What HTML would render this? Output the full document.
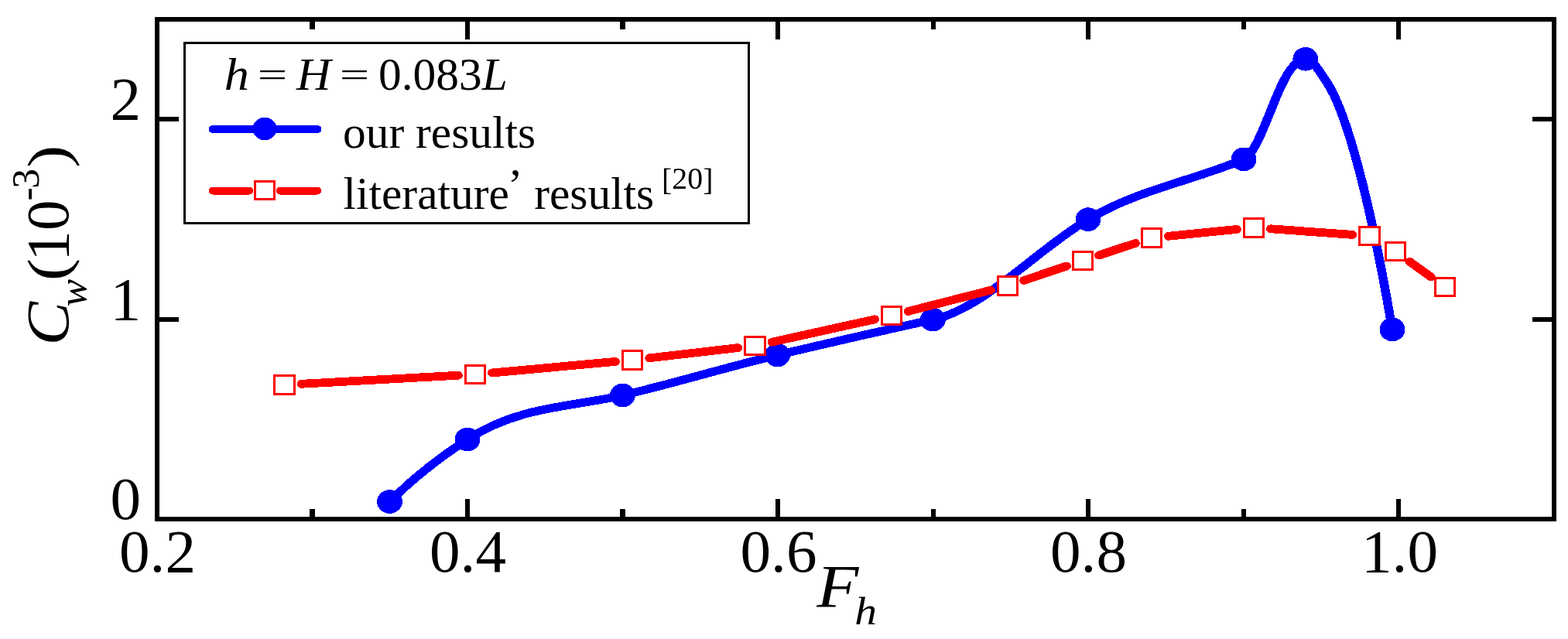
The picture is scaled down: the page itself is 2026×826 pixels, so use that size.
<!DOCTYPE html>
<html lang="en"><head><meta charset="utf-8"><title>Wave resistance coefficient versus depth Froude number</title>
<style>html,body{margin:0;padding:0;background:#fff}svg{display:block}text{font-family:"Liberation Serif","DejaVu Serif",serif;fill:#000}.i{font-style:italic}</style></head><body>
<svg width="2026" height="826" viewBox="0 0 2026 826">
<rect width="2026" height="826" fill="#fff"/>
<g shape-rendering="crispEdges" fill="#000">
<rect x="200" y="22" width="1811" height="6"/><rect x="200" y="668" width="1811" height="6"/>
<rect x="200" y="22" width="6" height="652"/><rect x="2005" y="22" width="6" height="652"/>
<rect x="400" y="658" width="7" height="10"/>
<rect x="400" y="28" width="7" height="10"/>
<rect x="601" y="645" width="6" height="23"/>
<rect x="601" y="28" width="6" height="23"/>
<rect x="801" y="658" width="7" height="10"/>
<rect x="801" y="28" width="7" height="10"/>
<rect x="1002" y="645" width="6" height="23"/>
<rect x="1002" y="28" width="6" height="23"/>
<rect x="1203" y="658" width="6" height="10"/>
<rect x="1203" y="28" width="6" height="10"/>
<rect x="1403" y="645" width="6" height="23"/>
<rect x="1403" y="28" width="6" height="23"/>
<rect x="1604" y="658" width="6" height="10"/>
<rect x="1604" y="28" width="6" height="10"/>
<rect x="1804" y="645" width="6" height="23"/>
<rect x="1804" y="28" width="6" height="23"/>
<rect x="206" y="151" width="25" height="6"/>
<rect x="1980" y="151" width="25" height="6"/>
<rect x="206" y="410" width="25" height="6"/>
<rect x="1980" y="410" width="25" height="6"/>
</g>
<g shape-rendering="crispEdges">
<path transform="scale(1.07 1)" d="M470.56 648.5 C501.87 614.9 533.18 589.8 564.49 568.0 C626.92 524.5 689.35 526.5 751.78 511.0 C814.14 495.5 876.51 474.8 938.88 459.0 C1001.43 443.1 1063.99 427.9 1126.54 413.2 C1189.03 398.5 1251.53 323.2 1314.02 283.6 C1376.64 243.9 1439.25 234.4 1501.87 205.9 C1515.26 199.8 1528.66 157.4 1542.06 123.3 C1553.52 94.1 1564.98 76.1 1576.45 76.3 C1585.23 76.5 1594.02 93.0 1602.80 107.3 C1613.71 125.1 1624.61 156.6 1635.51 197.6 C1650.78 255.0 1666.04 330.6 1681.31 425.9" fill="none" stroke="#0000ff" stroke-width="10.8" stroke-linejoin="round" stroke-linecap="round"/>
<ellipse cx="503.5" cy="648.5" rx="16.4" ry="15.3" fill="#0000ff"/>
<ellipse cx="604.0" cy="568.0" rx="16.4" ry="15.3" fill="#0000ff"/>
<ellipse cx="804.4" cy="511.0" rx="16.4" ry="15.3" fill="#0000ff"/>
<ellipse cx="1004.6" cy="459.0" rx="16.4" ry="15.3" fill="#0000ff"/>
<ellipse cx="1205.4" cy="413.2" rx="16.4" ry="15.3" fill="#0000ff"/>
<ellipse cx="1406.0" cy="283.6" rx="16.4" ry="15.3" fill="#0000ff"/>
<ellipse cx="1607.0" cy="205.9" rx="16.4" ry="15.3" fill="#0000ff"/>
<ellipse cx="1686.8" cy="76.3" rx="16.4" ry="15.3" fill="#0000ff"/>
<ellipse cx="1799.0" cy="425.9" rx="16.4" ry="15.3" fill="#0000ff"/>
<path transform="scale(1.07 1)" d="M364.3 501.7 L553.6 490.6 A5.4 5.4 0 0 0 553.0 479.8 L363.7 490.9 A5.4 5.4 0 0 0 364.3 501.7 Z" fill="#ff0000"/>
<path transform="scale(1.07 1)" d="M594.8 487.4 L743.6 472.8 A5.4 5.4 0 0 0 742.5 462.0 L593.8 476.6 A5.4 5.4 0 0 0 594.8 487.4 Z" fill="#ff0000"/>
<path transform="scale(1.07 1)" d="M784.6 468.2 L892.0 454.9 A5.4 5.4 0 0 0 890.7 444.2 L783.3 457.5 A5.4 5.4 0 0 0 784.6 468.2 Z" fill="#ff0000"/>
<path transform="scale(1.07 1)" d="M933.1 447.5 L1057.8 418.0 A5.4 5.4 0 0 0 1055.3 407.5 L930.6 437.0 A5.4 5.4 0 0 0 933.1 447.5 Z" fill="#ff0000"/>
<path transform="scale(1.07 1)" d="M1098.0 407.7 L1198.3 380.2 A5.4 5.4 0 0 0 1195.5 369.8 L1095.1 397.3 A5.4 5.4 0 0 0 1098.0 407.7 Z" fill="#ff0000"/>
<path transform="scale(1.07 1)" d="M1238.1 367.6 L1289.8 349.1 A5.4 5.4 0 0 0 1286.2 338.9 L1234.5 357.4 A5.4 5.4 0 0 0 1238.1 367.6 Z" fill="#ff0000"/>
<path transform="scale(1.07 1)" d="M1328.8 335.2 L1372.9 319.5 A5.4 5.4 0 0 0 1369.3 309.3 L1325.2 325.0 A5.4 5.4 0 0 0 1328.8 335.2 Z" fill="#ff0000"/>
<path transform="scale(1.07 1)" d="M1411.7 310.7 L1494.1 301.8 A5.4 5.4 0 0 0 1493.0 291.0 L1410.5 299.9 A5.4 5.4 0 0 0 1411.7 310.7 Z" fill="#ff0000"/>
<path transform="scale(1.07 1)" d="M1534.1 301.2 L1632.7 308.8 A5.4 5.4 0 0 0 1633.6 298.0 L1534.9 290.4 A5.4 5.4 0 0 0 1534.1 301.2 Z" fill="#ff0000"/>
<path transform="scale(1.07 1)" d="M1698.5 342.1 L1724.9 362.4 A5.4 5.4 0 0 0 1731.5 353.9 L1705.0 333.6 A5.4 5.4 0 0 0 1698.5 342.1 Z" fill="#ff0000"/>
<rect x="354.8" y="485.7" width="25.4" height="23.6" fill="#fff" stroke="#ff0000" stroke-width="3"/>
<rect x="601.3" y="472.2" width="25.4" height="23.6" fill="#fff" stroke="#ff0000" stroke-width="3"/>
<rect x="804.3" y="453.6" width="25.4" height="23.6" fill="#fff" stroke="#ff0000" stroke-width="3"/>
<rect x="962.9" y="435.2" width="25.4" height="23.6" fill="#fff" stroke="#ff0000" stroke-width="3"/>
<rect x="1139.3" y="396.2" width="25.4" height="23.6" fill="#fff" stroke="#ff0000" stroke-width="3"/>
<rect x="1289.3" y="357.7" width="25.4" height="23.6" fill="#fff" stroke="#ff0000" stroke-width="3"/>
<rect x="1386.3" y="325.2" width="25.4" height="23.6" fill="#fff" stroke="#ff0000" stroke-width="3"/>
<rect x="1475.3" y="295.7" width="25.4" height="23.6" fill="#fff" stroke="#ff0000" stroke-width="3"/>
<rect x="1607.3" y="282.4" width="25.4" height="23.6" fill="#fff" stroke="#ff0000" stroke-width="3"/>
<rect x="1756.7" y="293.2" width="25.4" height="23.6" fill="#fff" stroke="#ff0000" stroke-width="3"/>
<rect x="1790.3" y="313.2" width="25.4" height="23.6" fill="#fff" stroke="#ff0000" stroke-width="3"/>
<rect x="1854.3" y="359.2" width="25.4" height="23.6" fill="#fff" stroke="#ff0000" stroke-width="3"/>
</g>
<g shape-rendering="crispEdges">
<rect x="238.5" y="55.5" width="729" height="233" fill="#fff" stroke="#000" stroke-width="3" shape-rendering="crispEdges"/>
<path transform="scale(1.07 1)" d="M257.0 172.0 L383.2 172.0 A5.0 5.0 0 0 0 383.2 162.0 L257.0 162.0 A5.0 5.0 0 0 0 257.0 172.0 Z" fill="#0000ff"/>
<ellipse cx="342" cy="166.5" rx="15.6" ry="14.8" fill="#0000ff"/>
<path transform="scale(1.07 1)" d="M257.0 251.5 L300.9 251.5 A5.0 5.0 0 0 0 300.9 241.5 L257.0 241.5 A5.0 5.0 0 0 0 257.0 251.5 Z" fill="#ff0000"/>
<path transform="scale(1.07 1)" d="M338.3 251.5 L383.2 251.5 A5.0 5.0 0 0 0 383.2 241.5 L338.3 241.5 A5.0 5.0 0 0 0 338.3 251.5 Z" fill="#ff0000"/>
<rect x="329.5" y="234.5" width="25" height="23" fill="#fff" stroke="#ff0000" stroke-width="3"/>
</g>
<text style="font-size:59.4px" xml:space="preserve"><tspan x="289.85" y="116.3" class="i" textLength="32.23" lengthAdjust="spacingAndGlyphs">h</tspan> <tspan x="332.7" y="110.6" textLength="38.53" lengthAdjust="spacingAndGlyphs" style="font-size:44.85px">=</tspan> <tspan x="382.9" y="116.3" class="i" textLength="44.61" lengthAdjust="spacingAndGlyphs">H</tspan> <tspan x="438.8" y="110.6" textLength="38.53" lengthAdjust="spacingAndGlyphs" style="font-size:44.85px">=</tspan> <tspan x="489.0" y="116.3">0.083</tspan><tspan class="i">L</tspan></text>
<text x="443" y="190.6" style="font-size:59.4px">our results</text>
<text style="font-size:59.4px" xml:space="preserve"><tspan x="443.5" y="270.3">literature</tspan><tspan dx="-2" dy="-11.3">’</tspan><tspan dx="4.1" dy="11.3"> results</tspan> <tspan x="855.1" y="246.2" style="font-size:39.8px">[</tspan><tspan dy="-2.4" style="font-size:39.8px">20</tspan><tspan dy="2.4" style="font-size:39.8px">]</tspan></text>
<text x="203.5" y="739.3" text-anchor="middle" style="font-size:79.2px">0.2</text>
<text x="604.5" y="739.3" text-anchor="middle" style="font-size:79.2px">0.4</text>
<text x="1006" y="739.3" text-anchor="middle" style="font-size:79.2px">0.6</text>
<text x="1406.5" y="739.3" text-anchor="middle" style="font-size:79.2px">0.8</text>
<text x="1808.5" y="739.3" text-anchor="middle" style="font-size:79.2px">1.0</text>
<text x="182" y="154.3" text-anchor="end" style="font-size:79.2px">2</text>
<text x="182" y="413" text-anchor="end" style="font-size:79.2px">1</text>
<text x="182" y="671.4" text-anchor="end" style="font-size:79.2px">0</text>
<text style="font-size:78.7px"><tspan x="1055.2" y="784.3" class="i" textLength="54.14" lengthAdjust="spacingAndGlyphs">F</tspan><tspan x="1104.2" y="807.1" class="i" textLength="28.79" lengthAdjust="spacingAndGlyphs" style="font-size:51.5px">h</tspan></text>
<g transform="translate(87.5 443) rotate(-90)">
<text style="font-size:79.2px"><tspan x="-3.5" y="0" class="i" textLength="56.53" lengthAdjust="spacingAndGlyphs">C</tspan><tspan x="46.5" y="23" class="i" textLength="35.73" lengthAdjust="spacingAndGlyphs" style="font-size:51.5px">w</tspan><tspan x="80" y="-0.2" textLength="29.02" lengthAdjust="spacingAndGlyphs" style="font-size:73.66px">(</tspan><tspan x="105.3" y="0">10</tspan><tspan x="183.5" y="-37" style="font-size:51.5px">-</tspan><tspan x="199.3" y="-37.5" style="font-size:51.5px">3</tspan><tspan x="226.3" y="-0.2" textLength="29.02" lengthAdjust="spacingAndGlyphs" style="font-size:73.66px">)</tspan></text>
</g>
</svg></body></html>
